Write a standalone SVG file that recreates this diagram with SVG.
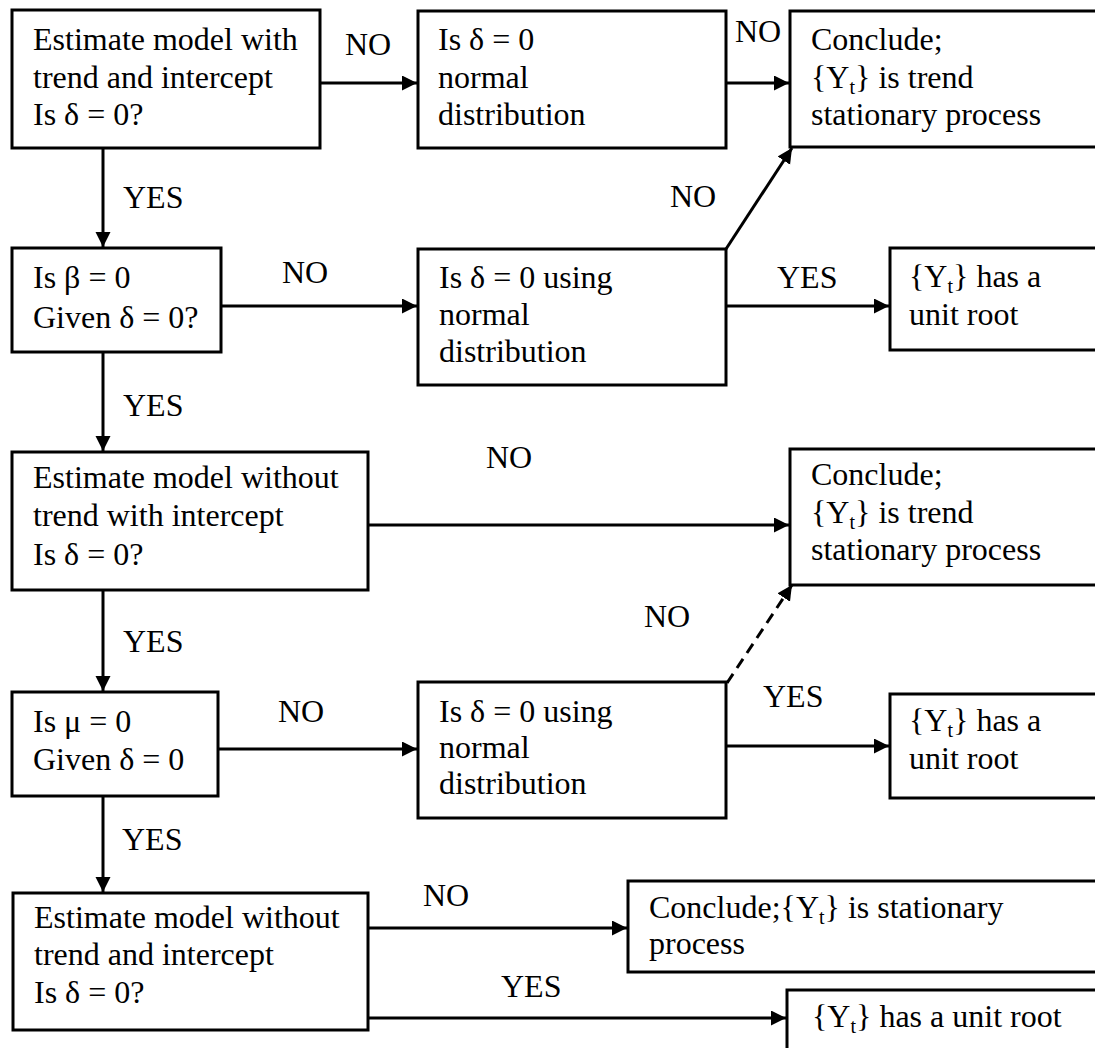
<svg xmlns="http://www.w3.org/2000/svg" width="1095" height="1048" viewBox="0 0 1095 1048">
<style>
.box{fill:#fff;stroke:#000;stroke-width:3}
text{font-family:"Liberation Serif","Times New Roman",serif;font-size:32px;fill:#000}
.sub{font-size:20px}
.c{fill:none;stroke:#000;stroke-width:3}
.d{stroke-dasharray:11 7}
</style>
<defs>
<marker id="ah" markerUnits="userSpaceOnUse" markerWidth="16" markerHeight="16" refX="15" refY="7.5" orient="auto">
<path d="M0,0 L15,7.5 L0,15 z" fill="#000"/>
</marker>
</defs>
<rect width="1095" height="1048" fill="#fff"/>
<g id="connectors">
<line class="c" x1="320" y1="83" x2="417" y2="83" marker-end="url(#ah)"/>
<text x="345" y="55">NO</text>
<line class="c" x1="726" y1="83" x2="789" y2="83" marker-end="url(#ah)"/>
<text x="735" y="42">NO</text>
<line class="c" x1="103" y1="148" x2="103" y2="247" marker-end="url(#ah)"/>
<text x="123" y="208">YES</text>
<line class="c" x1="221" y1="306" x2="417" y2="306" marker-end="url(#ah)"/>
<text x="282" y="283">NO</text>
<line class="c" x1="726" y1="249" x2="792" y2="148" marker-end="url(#ah)"/>
<text x="670" y="207">NO</text>
<line class="c" x1="726" y1="306" x2="889" y2="306" marker-end="url(#ah)"/>
<text x="777" y="288">YES</text>
<line class="c" x1="103" y1="352" x2="103" y2="451" marker-end="url(#ah)"/>
<text x="123" y="416">YES</text>
<line class="c" x1="368" y1="525" x2="789" y2="525" marker-end="url(#ah)"/>
<text x="486" y="468">NO</text>
<line class="c d" x1="727" y1="683" x2="792" y2="585" marker-end="url(#ah)"/>
<text x="644" y="627">NO</text>
<line class="c" x1="103" y1="590" x2="103" y2="691" marker-end="url(#ah)"/>
<text x="123" y="652">YES</text>
<line class="c" x1="218" y1="749" x2="417" y2="749" marker-end="url(#ah)"/>
<text x="278" y="722">NO</text>
<line class="c" x1="726" y1="746" x2="889" y2="746" marker-end="url(#ah)"/>
<text x="763" y="707">YES</text>
<line class="c" x1="103" y1="796" x2="103" y2="892" marker-end="url(#ah)"/>
<text x="122" y="850">YES</text>
<line class="c" x1="368" y1="928" x2="627" y2="928" marker-end="url(#ah)"/>
<text x="423" y="906">NO</text>
<line class="c" x1="368" y1="1018" x2="786" y2="1018" marker-end="url(#ah)"/>
<text x="501" y="997">YES</text>
</g>
<g id="n1"><rect class="box" x="12" y="10" width="308" height="138"/>
<text x="33" y="50">Estimate model with</text><text x="33" y="88">trend and intercept</text><text x="33" y="125">Is δ = 0?</text></g>
<g id="n2"><rect class="box" x="418" y="11" width="308" height="137"/>
<text x="438" y="50">Is δ = 0</text><text x="438" y="88">normal</text><text x="438" y="125">distribution</text></g>
<g id="n3"><rect class="box" x="790" y="11" width="320" height="136"/>
<text x="811" y="50">Conclude;</text><text x="811" y="88">{Y<tspan class="sub" baseline-shift="-6">t</tspan>} is trend</text><text x="811" y="125">stationary process</text></g>
<g id="n4"><rect class="box" x="12" y="248" width="209" height="104"/>
<text x="33" y="288">Is β = 0</text><text x="33" y="328">Given δ = 0?</text></g>
<g id="n5"><rect class="box" x="418" y="249" width="308" height="136"/>
<text x="439" y="288">Is δ = 0 using</text><text x="439" y="325">normal</text><text x="439" y="362">distribution</text></g>
<g id="n6"><rect class="box" x="890" y="248" width="220" height="102"/>
<text x="909" y="287">{Y<tspan class="sub" baseline-shift="-6">t</tspan>} has a</text><text x="909" y="325">unit root</text></g>
<g id="n7"><rect class="box" x="12" y="452" width="356" height="138"/>
<text x="33" y="488">Estimate model without</text><text x="33" y="526">trend with intercept</text><text x="33" y="565">Is δ = 0?</text></g>
<g id="n8"><rect class="box" x="790" y="449" width="320" height="136"/>
<text x="811" y="485">Conclude;</text><text x="811" y="523">{Y<tspan class="sub" baseline-shift="-6">t</tspan>} is trend</text><text x="811" y="560">stationary process</text></g>
<g id="n9"><rect class="box" x="418" y="682" width="308" height="136"/>
<text x="439" y="722">Is δ = 0 using</text><text x="439" y="758">normal</text><text x="439" y="794">distribution</text></g>
<g id="n10"><rect class="box" x="12" y="692" width="206" height="104"/>
<text x="33" y="732">Is μ = 0</text><text x="33" y="770">Given δ = 0</text></g>
<g id="n11"><rect class="box" x="890" y="694" width="220" height="104"/>
<text x="909" y="731">{Y<tspan class="sub" baseline-shift="-6">t</tspan>} has a</text><text x="909" y="769">unit root</text></g>
<g id="n12"><rect class="box" x="13" y="893" width="355" height="137"/>
<text x="34" y="928">Estimate model without</text><text x="34" y="965">trend and intercept</text><text x="34" y="1003">Is δ = 0?</text></g>
<g id="n13"><rect class="box" x="628" y="881" width="480" height="91"/>
<text x="649" y="918">Conclude;{Y<tspan class="sub" baseline-shift="-6">t</tspan>} is stationary</text><text x="649" y="954">process</text></g>
<g id="n14"><rect class="box" x="787" y="990" width="320" height="80"/>
<text x="812" y="1027">{Y<tspan class="sub" baseline-shift="-6">t</tspan>} has a unit root</text></g>
</svg>
